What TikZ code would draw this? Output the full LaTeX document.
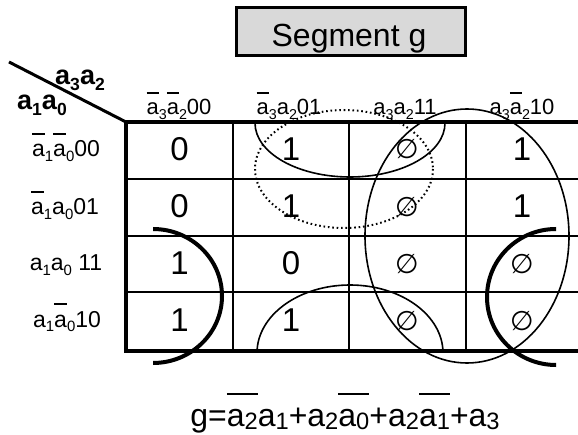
\documentclass[tikz,border=0pt]{standalone}
\usepackage{fontspec}
\setmainfont{Liberation Sans}
\newfontfamily\djv{DejaVu Sans}
\usepackage{graphicx}
\newcommand\ovl[1]{\setbox0\hbox{#1}\rlap{\raisebox{0.95em}{\rule{\wd0}{0.08em}}}\box0}
\newcommand\fovl[1]{\setbox0\hbox{#1}\rlap{\raisebox{0.98em}{\rule{\wd0}{0.06em}}}\box0}
\newcommand\sub[1]{\raisebox{-0.2em}{\scalebox{0.65}{#1}}}
\newcommand\fsub[1]{\raisebox{-0.12em}{\scalebox{0.74}{#1}}}
\newcommand\es{{\djv\fontsize{27}{30}\selectfont ∅}}
\begin{document}
\begin{tikzpicture}[x=1pt,y=-1pt,
  thickb/.style={line width=4pt},
  gridline/.style={line width=2.5pt},
  loopline/.style={line width=1.6pt},
  bigarc/.style={line width=4pt},
  dotloop/.style={line width=2pt,dash pattern=on 1.6pt off 2.8pt},
  cell/.style={inner sep=0pt,font=\fontsize{33}{36}\selectfont},
  hdr/.style={inner sep=0pt,anchor=base,font=\fontsize{22}{25}\selectfont},
  rowlab/.style={inner sep=0pt,anchor=base,font=\fontsize{23}{26}\selectfont},
  boldlab/.style={inner sep=0pt,anchor=base,font=\bfseries\fontsize{27}{30}\selectfont},
  titlebox/.style={draw,line width=3pt,fill={rgb,255:red,217;green,217;blue,217},minimum width=229pt,minimum height=48pt,inner sep=0pt}]
\useasboundingbox (0,0) rectangle (578,435);
% title
\node[titlebox] (title) at (351,32) {};
\node[inner sep=0pt,anchor=base,font=\fontsize{32}{36}\selectfont] (titletext) at (349,47) {Segment g};
% grid
\draw[gridline] (126,179) -- (578,179) (126,236) -- (578,236) (126,292) -- (578,292);
\draw[gridline] (233,122) -- (233,351) (349,122) -- (349,351) (466,122) -- (466,351);
\draw[thickb] (578,122) -- (126,122) -- (126,351) -- (578,351);
\coordinate (corner) at (126,122);
\coordinate (diagstart) at (9,62);
\draw[line width=3pt] (diagstart) -- (corner);
% corner labels
\node[boldlab] (l32) at (80,85) {a\sub{3}a\sub{2}};
\node[boldlab] (l10) at (42,110) {a\sub{1}a\sub{0}};
% column headers
\node[hdr] (h1) at (179,115) {\ovl{a}\sub{3}\ovl{a}\sub{2}00};
\node[hdr] (h2) at (289,115) {\ovl{a}\sub{3}a\sub{2}01};
\node[hdr] (h3) at (405,115) {a\sub{3}a\sub{2}11};
\node[hdr] (h4) at (522,115) {a\sub{3}\ovl{a}\sub{2}10};
% row headers
\node[rowlab] (r1) at (66,157) {\ovl{a}\sub{1}\ovl{a}\sub{0}00};
\node[rowlab] (r2) at (65,215) {\ovl{a}\sub{1}a\sub{0}01};
\node[rowlab] (r3) at (66,271) {a\sub{1}a\sub{0} 11};
\node[rowlab] (r4) at (67,327) {a\sub{1}\ovl{a}\sub{0}10};
% cells
\node[cell] (c11) at (179.5,149) {0};
\node[cell] (c12) at (291,149) {1};
\node[cell] (c13) at (407,149) {\es};
\node[cell] (c14) at (522,149) {1};
\node[cell] (c21) at (179.5,206) {0};
\node[cell] (c22) at (291,206) {1};
\node[cell] (c23) at (407,207) {\es};
\node[cell] (c24) at (522,206) {1};
\node[cell] (c31) at (179.5,263) {1};
\node[cell] (c32) at (291,263) {0};
\node[cell] (c33) at (407,264) {\es};
\node[cell] (c34) at (522,264) {\es};
\node[cell] (c41) at (179.5,320) {1};
\node[cell] (c42) at (291,320) {1};
\node[cell] (c43) at (407,321) {\es};
\node[cell] (c44) at (522,321) {\es};
% loops
\draw[dotloop] (344,169) ellipse [x radius=89, y radius=59];
\draw[loopline] (467,236) ellipse [x radius=102, y radius=127];
\begin{scope}
  \clip (0,123) rectangle (578,435);
  \draw[loopline] (350,123) ellipse [x radius=95, y radius=54];
\end{scope}
\begin{scope}
  \clip (0,0) rectangle (578,353);
  \draw[loopline] (350,353) ellipse [x radius=93, y radius=68];
\end{scope}
\begin{scope}
  \clip (153,0) rectangle (578,435);
  \draw[bigarc] (153,296) ellipse [x radius=69, y radius=67];
\end{scope}
\begin{scope}
  \clip (0,0) rectangle (556,435);
  \draw[bigarc] (556,297) ellipse [x radius=69, y radius=68];
\end{scope}
% formula
\node[inner sep=0pt,anchor=base,font=\fontsize{32}{36}\selectfont] (formula) at (345,426)
  {g=\fovl{a\fsub{2}}a\fsub{1}+a\fsub{2}\fovl{a\fsub{0}}+a\fsub{2}\fovl{a\fsub{1}}+a\fsub{3}};
\end{tikzpicture}
\end{document}
